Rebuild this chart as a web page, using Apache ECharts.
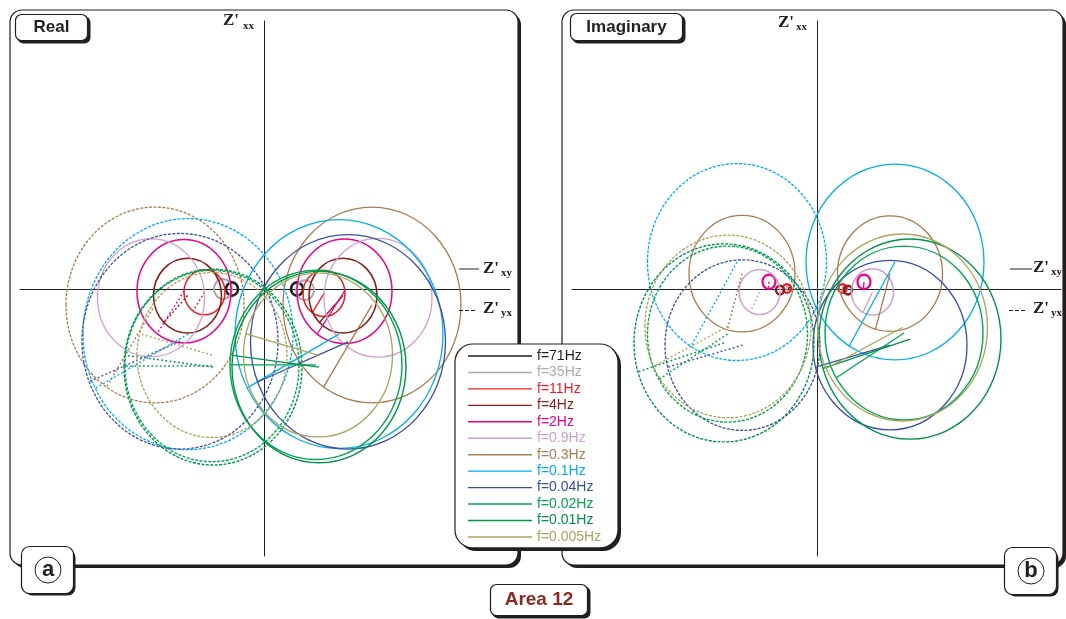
<!DOCTYPE html>
<html><head><meta charset="utf-8">
<script src="https://cdn.jsdelivr.net/npm/echarts@6/dist/echarts.min.js"></script>
<style>html,body{margin:0;padding:0;background:#fff}#c{width:1066px;height:619px}</style>
</head><body><div id="c"></div>
<script>
// ---------- data ----------
const freqLabels = ['f=71Hz','f=35Hz','f=11Hz','f=4Hz','f=2Hz','f=0.9Hz','f=0.3Hz','f=0.1Hz','f=0.04Hz','f=0.02Hz','f=0.01Hz','f=0.005Hz'];

// (a) Real part: circle centres and radii, Z'xy (solid) and Z'yx (dashed)
const realXyCx = [3.3, 4.1, 6.0, 7.9, 8.05, 11.4, 10.8, 7.5, 8.4, 5.2, 5.5, 5.4];
const realXyCy = [0, -0.1, -0.4, -0.6, -0.2, -0.8, -1.45, -4.1, -4.8, -6.9, -7.1, -6.0];
const realXyR  = [0.6, 0.9, 2.1, 3.4, 4.75, 5.4, 8.9, 10.4, 9.75, 8.6, 8.7, 7.45];
const realYxCx = [-3.2, -4.1, -5.95, -7.65, -8.0, -11.3, -10.9, -7.6, -8.4, -5.2, -5.1, -5.2];
const realYxCy = [0, 0, -0.3, -0.6, -0.2, -0.8, -1.45, -4.1, -4.75, -7.0, -7.1, -6.0];
const realYxR  = [0.6, 0.9, 2.05, 3.4, 4.7, 5.35, 8.9, 10.5, 9.8, 8.7, 8.9, 7.5];
const realAngle = [null, null, 236, 226, 235, null, 237, 208, 202, 180, 173, 165];

// (b) Imaginary part
const imagXyCx = [2.7, 2.8, 2.55, 3.1, 4.7, 5.55, 7.3, 7.8, 7.3, 8.7, 9.3, 8.55];
const imagXyCy = [0, 0.1, 0.05, -0.1, 0.65, -0.27, 1.4, 2.45, -5.1, -4.0, -4.55, -3.5];
const imagXyR  = [0.15, 0.25, 0.4, 0.4, 0.65, 2.1, 5.25, 8.9, 7.7, 7.9, 9.1, 8.5];
const imagYxCx = [-2.7, -2.8, -3.0, -3.7, -4.8, -5.75, -7.5, -8.0, -7.45, -8.95, -9.3, -8.9];
const imagYxCy = [0, 0.1, 0.05, -0.1, 0.65, -0.27, 1.4, 2.45, -5.1, -4.1, -4.9, -3.4];
const imagYxR  = [0.15, 0.25, 0.4, 0.4, 0.65, 2.05, 5.3, 8.95, 7.75, 8.0, 9.0, 8.3];
const imagAngle = [null, null, null, null, 265, 243, 254, 239, 195, 211, 197, 206];

// ---------- styles ----------
const colors = ['#231f20','#a7a9ac','#ed1c24','#8b1e1a','#ec008c','#cfa0d0','#a67c52','#00aeef','#3a4fa3','#00a651','#00934a','#aca35e'];
const widthA = [2.6, 2.0, 1.5, 1.6, 1.5, 1.3, 1.3, 1.3, 1.3, 1.4, 1.4, 1.3];
const widthB = [1.5, 1.5, 2.3, 2.4, 2.2, 1.5, 1.3, 1.3, 1.3, 1.4, 1.4, 1.3];
const INK = '#231f20';

function makeRender(angles, widths, i) {
  return function (params, api) {
    const cx = api.value(0), cy = api.value(1), r = api.value(2), kind = api.value(3);
    const c = api.coord([cx, cy]);
    const e = api.coord([cx + r, cy + r]);
    const rx = Math.abs(e[0] - c[0]), ry = Math.abs(c[1] - e[1]);
    const color = colors[i];
    const lw = widths[i];
    // the small dashed (Z'yx) curves look continuous in the reference
    const dash = (kind && rx > 60) ? [3, 1.4] : null;
    const children = [{
      type: 'ellipse',
      shape: { cx: c[0], cy: c[1], rx: rx, ry: ry },
      style: { fill: 'none', stroke: color, lineWidth: lw, lineDash: dash }
    }];
    const ang = angles[i];
    if (ang !== null && ang !== undefined) {
      const t = ang * Math.PI / 180;
      const p = api.coord([cx + r * Math.cos(t), cy + r * Math.sin(t)]);
      children.push({
        type: 'line',
        shape: { x1: c[0], y1: c[1], x2: p[0], y2: p[1] },
        style: { stroke: color, lineWidth: kind ? 1.5 : 1.3, lineDash: kind ? [1.8, 2.4] : null }
      });
    }
    return { type: 'group', children: children };
  };
}

const series = [];
freqLabels.forEach(function (name, i) {
  series.push({
    type: 'custom', name: name, xAxisIndex: 0, yAxisIndex: 0,
    itemStyle: { color: colors[i] }, color: colors[i],
    dimensions: ['cx', 'cy', 'r', 'kind'], encode: { x: 0, y: 1 },
    renderItem: makeRender(realAngle, widthA, i),
    data: [[realXyCx[i], realXyCy[i], realXyR[i], 0], [realYxCx[i], realYxCy[i], realYxR[i], 1]],
    silent: true, animation: false
  });
  series.push({
    type: 'custom', name: name, xAxisIndex: 1, yAxisIndex: 1,
    itemStyle: { color: colors[i] }, color: colors[i],
    dimensions: ['cx', 'cy', 'r', 'kind'], encode: { x: 0, y: 1 },
    renderItem: makeRender(imagAngle, widthB, i),
    data: [[imagXyCx[i], imagXyCy[i], imagXyR[i], 0], [imagYxCx[i], imagYxCy[i], imagYxR[i], 1]],
    silent: true, animation: false
  });
});

function axisCommon(min, max, idx) {
  return {
    type: 'value', gridIndex: idx, min: min, max: max,
    axisLine: { show: true, onZero: true, lineStyle: { color: INK, width: 1 } },
    axisTick: { show: false }, axisLabel: { show: false }, splitLine: { show: false }
  };
}

function boxTitle(text, left, top, w, h, size, color) {
  return {
    text: '{t|' + text + '}', left: left, top: top, padding: [0, 0, 0, 0],
    backgroundColor: '#fff', borderColor: INK, borderWidth: 1.2, borderRadius: 6,
    textStyle: { rich: { t: {
      fontFamily: 'Liberation Sans', fontWeight: 'bold', fontSize: size, color: color,
      width: w, height: h, lineHeight: h, align: 'center', verticalAlign: 'middle'
    } } }
  };
}
function letterTitle(letter, left, top) {
  return {
    text: '{c|' + letter + '}', left: left, top: top, padding: [10, 12, 10, 13],
    backgroundColor: '#fff', borderColor: INK, borderWidth: 1.2, borderRadius: 8,
    textStyle: { rich: { c: {
      fontFamily: 'Liberation Sans', fontSize: 22, color: INK, width: 26, height: 26, lineHeight: 26,
      align: 'center', verticalAlign: 'middle', borderColor: INK, borderWidth: 1, borderRadius: 13
    } } }
  };
}
function shadowRect(x, y, w, h, r, off) {
  return { type: 'rect', z: 1, silent: true, shape: { x: x + off, y: y + off, width: w, height: h, r: r }, style: { fill: INK } };
}

function zLabel(x, y, sub, subX) {
  return [
    { type: 'text', x: x, y: y, z: 5, style: { text: "Z'", font: 'bold 17px "Liberation Serif"', fill: INK, verticalAlign: 'middle' } },
    { type: 'text', x: subX, y: y + 5, z: 5, style: { text: sub, font: 'bold 11px "Liberation Serif"', fill: INK, verticalAlign: 'middle' } }
  ];
}

const graphics = [
  { type: 'rect', z: -11, silent: true, shape: { x: 13, y: 13, width: 508, height: 555, r: 12 }, style: { fill: INK } },
  { type: 'rect', z: -10, silent: true, shape: { x: 10, y: 10, width: 508, height: 555, r: 12 }, style: { fill: '#fff', stroke: INK, lineWidth: 1.2 } },
  { type: 'rect', z: -11, silent: true, shape: { x: 565, y: 13, width: 501, height: 555, r: 12 }, style: { fill: INK } },
  { type: 'rect', z: -10, silent: true, shape: { x: 562, y: 10, width: 501, height: 555, r: 12 }, style: { fill: '#fff', stroke: INK, lineWidth: 1.2 } },
  shadowRect(15, 14, 73, 27, 6, 2.5),
  shadowRect(570, 13, 113, 28, 6, 2.5),
  shadowRect(490, 584, 98, 32, 6, 2.5),
  shadowRect(22, 547, 51, 46, 8, 2.5),
  shadowRect(1005, 548, 51, 46, 8, 2.5),
  shadowRect(455, 344, 163, 204, 18, 3),
  { type: 'line', z: 5, shape: { x1: 459, y1: 269, x2: 479, y2: 269 }, style: { stroke: INK, lineWidth: 1 } },
  { type: 'line', z: 5, shape: { x1: 459, y1: 310.5, x2: 476, y2: 310.5 }, style: { stroke: INK, lineWidth: 1, lineDash: [4, 2] } },
  { type: 'line', z: 5, shape: { x1: 1010, y1: 269, x2: 1032, y2: 269 }, style: { stroke: INK, lineWidth: 1 } },
  { type: 'line', z: 5, shape: { x1: 1009, y1: 310.5, x2: 1027, y2: 310.5 }, style: { stroke: INK, lineWidth: 1, lineDash: [4, 2] } }
].concat(
  zLabel(223, 21, 'xx', 243),
  zLabel(483, 268.5, 'xy', 501),
  zLabel(483, 308.5, 'yx', 501),
  zLabel(778, 22.5, 'xx', 796),
  zLabel(1033, 267.5, 'xy', 1051),
  zLabel(1033, 308.5, 'yx', 1051)
);

const option = {
  animation: false,
  backgroundColor: '#fff',
  title: [
    boxTitle('Real', 15, 14, 73, 27, 17, INK),
    boxTitle('Imaginary', 570, 13, 113, 28, 17, INK),
    boxTitle('Area 12', 490, 584, 98, 32, 19, '#8b2a24'),
    letterTitle('a', 22, 547),
    letterTitle('b', 1005, 548)
  ],
  grid: [
    { left: 20, width: 490, top: 21, height: 535 },
    { left: 572, width: 489, top: 21, height: 535 }
  ],
  xAxis: [axisCommon(-24.4, 24.6, 0), axisCommon(-24.5, 24.4, 1)],
  yAxis: [axisCommon(-24.27, 24.36, 0), axisCommon(-24.27, 24.36, 1)],
  legend: {
    orient: 'vertical', left: 455, top: 344,
    padding: [5, 11, 4, 13],
    backgroundColor: '#fff', borderColor: INK, borderWidth: 1.2, borderRadius: 18,
    icon: 'rect', itemWidth: 64, itemHeight: 1.4, itemGap: 2.45,
    selectedMode: false,
    textStyle: { fontFamily: 'Liberation Sans', fontSize: 14, lineHeight: 14, width: 70 },
    data: freqLabels.map(function (n, i) { return { name: n, textStyle: { color: colors[i] } }; })
  },
  graphic: graphics,
  series: series
};

const chart = echarts.init(document.getElementById('c'), null, { renderer: 'canvas' });
chart.setOption(option);
</script>
</body></html>
